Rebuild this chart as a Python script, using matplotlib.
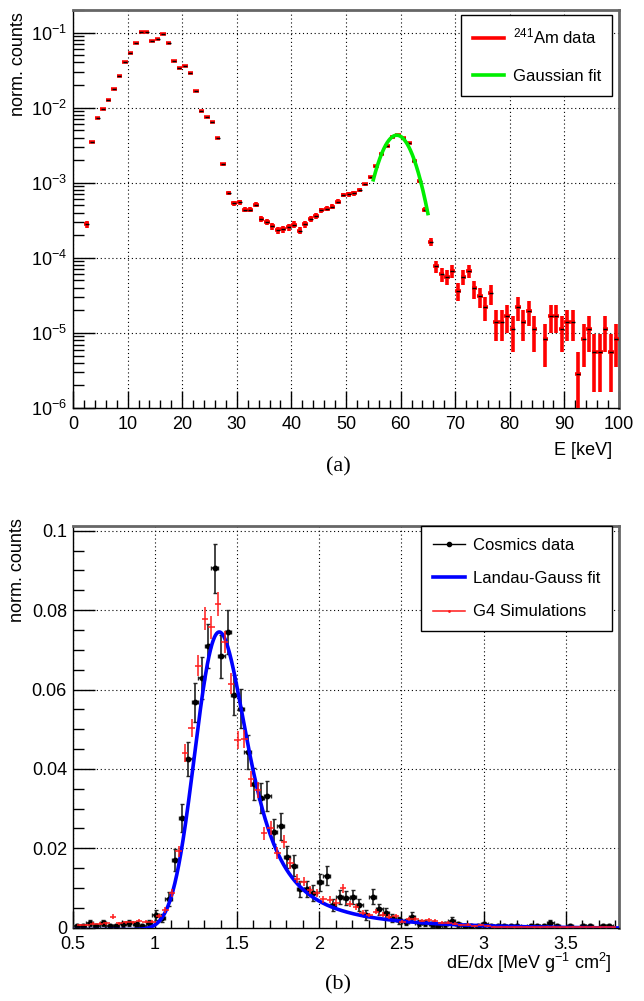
import numpy as np
import matplotlib
matplotlib.use('Agg')
import matplotlib.pyplot as plt
from matplotlib.lines import Line2D
from matplotlib.ticker import MultipleLocator, LogLocator, NullFormatter, FixedLocator, FixedFormatter

plt.rcParams['font.family'] = ['Liberation Sans', 'DejaVu Sans']
plt.rcParams['mathtext.fontset'] = 'custom'
plt.rcParams['mathtext.rm'] = 'Liberation Sans'
plt.rcParams['mathtext.it'] = 'Liberation Sans:italic'
plt.rcParams['mathtext.bf'] = 'Liberation Sans:bold'

# ---- (a) 241Am spectrum, 1 keV bins ----
am_e = [2.5, 3.5, 4.5, 5.5, 6.5, 7.5, 8.5, 9.5, 10.5, 11.5, 12.5, 13.5, 14.5, 15.5,
        16.5, 17.5, 18.5, 19.5, 20.5, 21.5, 22.5, 23.5, 24.5, 25.5, 26.5, 27.5, 28.5,
        29.5, 30.5, 31.5, 32.5, 33.5, 34.5, 35.5, 36.5, 37.5, 38.5, 39.5, 40.5, 41.5,
        42.5, 43.5, 44.5, 45.5, 46.5, 47.5, 48.5, 49.5, 50.5, 51.5, 52.5, 53.5, 54.5,
        55.5, 56.5, 57.5, 58.5, 59.5, 60.5, 61.5, 62.5, 63.5, 64.5, 65.5, 66.5, 67.5,
        68.5, 69.5, 70.5, 71.5, 72.5, 73.5, 74.5, 75.5, 76.5, 77.5, 78.5, 79.5, 80.5,
        81.5, 82.5, 83.5, 84.5, 86.5, 87.5, 88.5, 89.5, 90.5, 91.5, 92.5, 93.5, 94.5,
        95.5, 96.5, 97.5, 98.5, 99.5]
am_y = [2.8e-4, 3.5e-3, 7.3e-3, 9.6e-3, 0.0127, 0.0178, 0.0265, 0.040, 0.054, 0.073,
        0.103, 0.103, 0.078, 0.083, 0.097, 0.073, 0.042, 0.034, 0.036, 0.029, 0.0168,
        9.0e-3, 7.5e-3, 6.4e-3, 3.9e-3, 1.76e-3, 7.4e-4, 5.3e-4, 5.5e-4, 4.4e-4, 4.4e-4,
        5.1e-4, 3.3e-4, 3.04e-4, 2.65e-4, 2.35e-4, 2.4e-4, 2.58e-4, 2.77e-4, 2.3e-4,
        2.8e-4, 3.27e-4, 3.65e-4, 4.3e-4, 4.5e-4, 4.8e-4, 5.6e-4, 6.8e-4, 7.0e-4, 7.2e-4,
        8.05e-4, 9.5e-4, 1.19e-3, 1.66e-3, 2.4e-3, 3.07e-3, 4.1e-3, 4.3e-3, 3.9e-3,
        3.37e-3, 1.94e-3, 1.05e-3, 4.4e-4, 1.64e-4, 7.7e-5, 6.1e-5, 5.6e-5, 6.7e-5,
        3.64e-5, 5.6e-5, 6.7e-5, 3.92e-5, 3.08e-5, 2.24e-5, 3.36e-5, 1.4e-5, 1.4e-5,
        1.68e-5, 1.12e-5, 2.24e-5, 1.4e-5, 1.96e-5, 1.12e-5, 8.4e-6, 1.68e-5, 1.68e-5,
        1.12e-5, 1.4e-5, 1.4e-5, 2.8e-6, 8.4e-6, 1.12e-5, 5.6e-6, 5.6e-6, 1.12e-5,
        5.6e-6, 8.4e-6]
am_unit = 2.8e-6  # one count after normalisation

# Gaussian fit parameters
g_amp, g_mu, g_sigma = 4.3e-3, 59.3, 2.6
g_range = (55.0, 65.0)

# ---- (b) dE/dx ----
cos_x = [0.525, 0.565, 0.605, 0.645, 0.685, 0.725, 0.765, 0.805, 0.845, 0.885, 0.925,
         0.965, 1.005, 1.045, 1.085, 1.125, 1.165, 1.205, 1.245, 1.285, 1.325, 1.365,
         1.405, 1.445, 1.485, 1.525, 1.565, 1.605, 1.645, 1.685, 1.725, 1.765, 1.805,
         1.845, 1.885, 1.925, 1.965, 2.005, 2.045, 2.085, 2.125, 2.165, 2.205, 2.245,
         2.285, 2.325, 2.365, 2.405, 2.445, 2.485, 2.525, 2.565, 2.605, 2.645, 2.685,
         2.725, 2.765, 2.805, 2.845, 2.885, 2.925, 2.965, 3.005, 3.045, 3.085, 3.125,
         3.165, 3.205, 3.285, 3.325, 3.365, 3.405, 3.445, 3.525, 3.605, 3.645, 3.725,
         3.765]
cos_y = [0.0004, 0.0004, 0.0013, 0.0004, 0.0013, 0.0004, 0.0004, 0.0009, 0.0013,
         0.0009, 0.0004, 0.0013, 0.0032, 0.0024, 0.0072, 0.0171, 0.0276, 0.0426, 0.0568,
         0.0629, 0.0710, 0.0905, 0.0684, 0.0745, 0.0587, 0.0552, 0.0443, 0.0362, 0.0326,
         0.0332, 0.0242, 0.0255, 0.0178, 0.0156, 0.0098, 0.0098, 0.0087, 0.0114, 0.0131,
         0.0057, 0.0077, 0.0074, 0.0077, 0.0057, 0.0032, 0.0078, 0.0046, 0.0036, 0.0025,
         0.0019, 0.0015, 0.0028, 0.0013, 0.0013, 0.0009, 0.0004, 0.0009, 0.0018, 0.0009,
         0.0004, 0.0004, 0.0004, 0.0009, 0.0004, 0.0004, 0.0004, 0.0004, 0.0004, 0.0004,
         0.0004, 0.0004, 0.0013, 0.0004, 0.0004, 0.0004, 0.0004, 0.0004, 0.0004]
cos_unit = 4.3e-4

sim_x = [0.545, 0.585, 0.625, 0.665, 0.705, 0.745, 0.785, 0.825, 0.865, 0.905, 0.945,
         0.985, 1.025, 1.065, 1.105, 1.145, 1.185, 1.225, 1.265, 1.305, 1.345, 1.385,
         1.425, 1.465, 1.505, 1.545, 1.585, 1.625, 1.665, 1.705, 1.745, 1.785, 1.825,
         1.865, 1.905, 1.945, 1.985, 2.025, 2.065, 2.105, 2.145, 2.185, 2.225, 2.265,
         2.305, 2.345, 2.385, 2.425, 2.465, 2.505, 2.545, 2.585, 2.625, 2.665, 2.705,
         2.745, 2.785, 2.825, 2.865, 2.905, 2.945, 2.985, 3.025, 3.065, 3.105, 3.145,
         3.185, 3.225, 3.265, 3.305, 3.345, 3.385, 3.425, 3.465, 3.505, 3.545, 3.585,
         3.625, 3.665, 3.705, 3.745, 3.785]
sim_y = [0.0007, 0.0007, 0.0010, 0.0010, 0.0011, 0.0028, 0.0011, 0.0014, 0.0014, 0.0018,
         0.0015, 0.0015, 0.0030, 0.0045, 0.0087, 0.0192, 0.0440, 0.0503, 0.0660, 0.0778,
         0.0757, 0.0816, 0.0719, 0.0615, 0.0473, 0.0475, 0.0374, 0.0347, 0.0238, 0.0251,
         0.0188, 0.0217, 0.0162, 0.0123, 0.0116, 0.0095, 0.0088, 0.0072, 0.0070, 0.0063,
         0.0099, 0.0060, 0.0051, 0.0038, 0.0032, 0.0040, 0.0033, 0.0028, 0.0029, 0.0015,
         0.0022, 0.0022, 0.0018, 0.0020, 0.0018, 0.0012, 0.0012, 0.0010, 0.0007, 0.0008,
         0.0005, 0.0006, 0.0005, 0.0002, 0.0003, 0.0002, 0.0001, 0.0002, 0.0002, 0.0001,
         0.0001, 0.0002, 0.0002, 0.0001, 0.0001, 0.0002, 0.0002, 0.0002, 0.0002, 0.0001,
         0.0002, 0.0001]
sim_unit = 1.1e-4

# Landau (x) Gauss fit: peak position, Landau width, Gauss sigma, peak height
lg_top, lg_width, lg_sigma, lg_peak = 1.392, 0.06, 0.11, 0.0745


def landau(lam):
    # standard Landau density from its characteristic function
    t = np.linspace(0, 40, 8001)[1:]
    dt = t[1] - t[0]
    damp = np.exp(-np.pi * t / 2)
    tlt = t * np.log(t)
    out = np.empty(len(lam))
    for i0 in range(0, len(lam), 200):
        l = lam[i0:i0 + 200, None]
        out[i0:i0 + 200] = (damp * np.cos(tlt + l * t)).sum(axis=1) * dt / np.pi
    return out


def langaus(x_lo, x_hi, top, width, sigma, peak):
    dx = 0.002
    xx = np.arange(x_lo - 0.6, x_hi + 0.6, dx)
    lam = (xx - top) / width - 0.22278
    land = landau(lam)
    kx = np.arange(-5 * sigma, 5 * sigma + dx, dx)
    kern = np.exp(-0.5 * (kx / sigma) ** 2)
    conv = np.convolve(land, kern, mode='same')
    xx = xx + (top - xx[np.argmax(conv)])
    keep = (xx >= x_lo) & (xx <= x_hi)
    return xx[keep], conv[keep] / conv.max() * peak


fig = plt.figure(figsize=(6.44, 10.01), dpi=100)

grid_kw = dict(color='black', linestyle=(0, (1, 2.5)), linewidth=0.8)


def frame(ax):
    for s in ['left', 'bottom']:
        ax.spines[s].set_linewidth(1.0)
        ax.spines[s].set_color('black')
    for s in ['top', 'right']:
        ax.spines[s].set_linewidth(2.0)
        ax.spines[s].set_color('#666666')


# ---------------- panel (a) ----------------
ax1 = fig.add_axes([73 / 644, 1 - 408 / 1001, 546 / 644, 398 / 1001])
am_err = np.sqrt(np.array(am_y) * am_unit)
ax1.errorbar(am_e, am_y, xerr=0.5, yerr=am_err, fmt='none', ecolor='#ff0000',
             elinewidth=2.6, capsize=0, zorder=3)
ax1.plot(am_e, am_y, ls='none', marker='_', color='black', ms=2.5, mew=1.0, zorder=4)
ge = np.linspace(g_range[0], g_range[1], 200)
ax1.plot(ge, g_amp * np.exp(-0.5 * ((ge - g_mu) / g_sigma) ** 2), color='#00ee00',
         lw=2.6, zorder=5)
ax1.set_yscale('log')
ax1.set_xlim(0, 100)
ax1.set_ylim(1e-6, 0.2)
ax1.xaxis.set_major_locator(MultipleLocator(10))
ax1.xaxis.set_minor_locator(MultipleLocator(2))
ax1.yaxis.set_major_locator(LogLocator(base=10, numticks=10))
ax1.yaxis.set_minor_locator(LogLocator(base=10, subs=np.arange(2, 10), numticks=20))
ax1.yaxis.set_minor_formatter(NullFormatter())
ax1.tick_params(axis='x', which='major', direction='in', length=12, width=1,
                labelsize=13, pad=6, top=False)
ax1.tick_params(axis='x', which='minor', direction='in', length=6, width=1, top=False)
ax1.tick_params(axis='y', which='major', direction='in', length=16, width=1,
                labelsize=13, pad=4, right=False)
ax1.tick_params(axis='y', which='minor', direction='in', length=8, width=1, right=False)
ax1.grid(True, which='major', **grid_kw)
frame(ax1)
ax1.set_ylabel('norm. counts', fontsize=13, loc='top')
ax1.yaxis.set_label_coords(-0.085, 0.995)
ax1.set_xlabel('E [keV]', fontsize=13, loc='right')
ax1.xaxis.set_label_coords(0.988, -0.085)
h1 = [Line2D([], [], color='#ff0000', lw=2.6),
      Line2D([], [], color='#00ee00', lw=2.6)]
leg1 = ax1.legend(h1, ['$^{241}$Am data', 'Gaussian fit'], loc='upper right',
                  bbox_to_anchor=(0.988, 0.987), fontsize=12, frameon=True,
                  fancybox=False, edgecolor='black', framealpha=1,
                  handlelength=1.9, handletextpad=0.5, labelspacing=1.35,
                  borderpad=0.7, borderaxespad=0)
leg1.get_frame().set_linewidth(1.0)

# ---------------- panel (b) ----------------
ax2 = fig.add_axes([72.5 / 644, 1 - 927.7 / 1001, 546 / 644, 401.7 / 1001])
cos_err = np.sqrt(np.array(cos_y) * cos_unit)
sim_err = np.sqrt(np.array(sim_y) * sim_unit)
ax2.errorbar(cos_x, cos_y, xerr=0.02, yerr=cos_err, fmt='o', color='black', ms=3.2,
             ecolor='#222222', elinewidth=1.2, capsize=1.5, capthick=1.0, zorder=3)
fx, fy = langaus(0.5, 3.82, lg_top, lg_width, lg_sigma, lg_peak)
ax2.plot(fx, fy, color='#0000ff', lw=2.6, zorder=4)
ax2.errorbar(sim_x, sim_y, xerr=0.02, yerr=sim_err, fmt='none', ecolor='#ff1a1a',
             elinewidth=1.1, capsize=0, zorder=5)
ax2.set_xlim(0.5, 3.82)
ax2.set_ylim(0, 0.1012)
ax2.xaxis.set_major_locator(FixedLocator([0.5, 1, 1.5, 2, 2.5, 3, 3.5]))
ax2.xaxis.set_major_formatter(FixedFormatter(['0.5', '1', '1.5', '2', '2.5', '3', '3.5']))
ax2.xaxis.set_minor_locator(MultipleLocator(0.1))
ax2.yaxis.set_major_locator(FixedLocator([0, 0.02, 0.04, 0.06, 0.08, 0.1]))
ax2.yaxis.set_major_formatter(FixedFormatter(['0', '0.02', '0.04', '0.06', '0.08', '0.1']))
ax2.yaxis.set_minor_locator(MultipleLocator(0.005))
ax2.tick_params(axis='x', which='major', direction='in', length=12, width=1,
                labelsize=13, pad=6, top=False)
ax2.tick_params(axis='x', which='minor', direction='in', length=6, width=1, top=False)
ax2.tick_params(axis='y', which='major', direction='in', length=16, width=1,
                labelsize=13, pad=4, right=False)
ax2.tick_params(axis='y', which='minor', direction='in', length=8, width=1, right=False)
ax2.grid(True, which='major', **grid_kw)
frame(ax2)
ax2.set_ylabel('norm. counts', fontsize=13, loc='top')
ax2.yaxis.set_label_coords(-0.085, 1.02)
ax2.set_xlabel('dE/dx [MeV g$^{-1}$ cm$^{2}$]', fontsize=13, loc='right')
ax2.xaxis.set_label_coords(0.988, -0.058)
h2 = [Line2D([], [], color='black', lw=1.0, marker='o', ms=3),
      Line2D([], [], color='#0000ff', lw=2.6),
      Line2D([], [], color='#ff1a1a', lw=1.1, marker='.', ms=2)]
leg2 = ax2.legend(h2, ['Cosmics data', 'Landau-Gauss fit', 'G4 Simulations'],
                  loc='upper right', bbox_to_anchor=(0.988, 1.0), fontsize=12,
                  frameon=True, fancybox=False, edgecolor='black', framealpha=1,
                  handlelength=1.9, handletextpad=0.5, labelspacing=1.1,
                  borderpad=0.7, borderaxespad=0)
leg2.get_frame().set_linewidth(1.0)

fig.text(0.525, 1 - 467 / 1001, '(a)', ha='center', va='center', fontsize=16,
         family='Liberation Serif')
fig.text(0.525, 1 - 985 / 1001, '(b)', ha='center', va='center', fontsize=16,
         family='Liberation Serif')

fig.savefig('out.png', dpi=100)
